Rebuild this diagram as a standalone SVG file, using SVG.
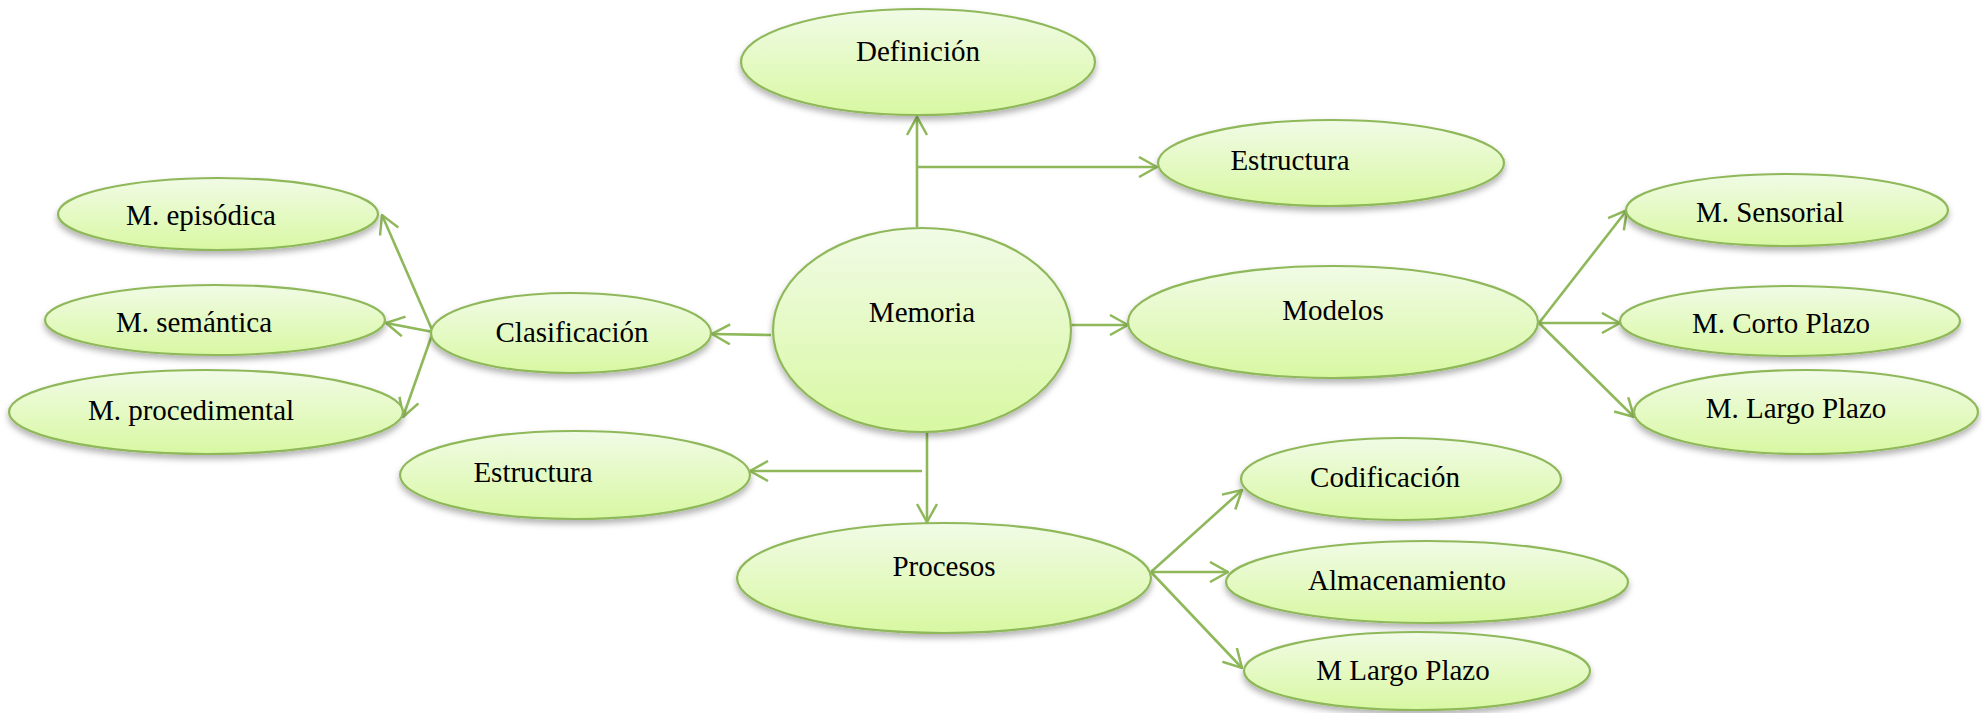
<svg xmlns="http://www.w3.org/2000/svg" width="1982" height="713" viewBox="0 0 1982 713">
<defs>
<linearGradient id="g" x1="0" y1="0" x2="0" y2="1">
<stop offset="0" stop-color="#f1fbe6"/>
<stop offset="1" stop-color="#d8f8a2"/>
</linearGradient>
<filter id="sh" x="-10%" y="-10%" width="120%" height="140%">
<feDropShadow dx="0" dy="4" stdDeviation="3" flood-color="#000" flood-opacity="0.3"/>
</filter>
<marker id="ar" viewBox="0 0 20 22" refX="19" refY="11" markerWidth="20" markerHeight="22" markerUnits="userSpaceOnUse" orient="auto">
<path d="M1,1 L19,11 L1,21" fill="none" stroke="#8fb85a" stroke-width="2.5"/>
</marker>
</defs>
<style>
.n ellipse{fill:url(#g);stroke:#8fb85a;stroke-width:2.2;filter:url(#sh)}
.n text{font-family:"Liberation Serif","Times New Roman",serif;font-size:29px;fill:#000;text-anchor:middle}
#connectors path{fill:none;stroke:#8fb85a;stroke-width:2.6;marker-end:url(#ar)}
#connectors path.plain{marker-end:none}
</style>
<rect width="1982" height="713" fill="#fff"/>
<g id="connectors">
<path d="M917,227 L917,117"/>
<path d="M917,167 L1157,167"/>
<path d="M771,335 L712,334"/>
<path d="M433,332 L382,215"/>
<path d="M433,332 L386,323"/>
<path d="M433,332 L403,417"/>
<path d="M1070,325 L1128,325"/>
<path d="M1539,323 L1627,210"/>
<path d="M1539,323 L1620,323"/>
<path d="M1539,323 L1634,417"/>
<path d="M927,428 L927,522"/>
<path d="M922,471 L750,471"/>
<path d="M1151,572 L1242,490"/>
<path d="M1151,572 L1228,572"/>
<path d="M1151,572 L1242,668"/>
</g>
<g id="definicion" class="n"><ellipse cx="918" cy="62" rx="177" ry="53"/><text x="918" y="61">Definición</text></g>
<g id="estructura1" class="n"><ellipse cx="1331" cy="163" rx="173" ry="43"/><text x="1290" y="170">Estructura</text></g>
<g id="memoria" class="n"><ellipse cx="922" cy="330" rx="149" ry="102"/><text x="922" y="322">Memoria</text></g>
<g id="modelos" class="n"><ellipse cx="1333" cy="322" rx="205" ry="56"/><text x="1333" y="320">Modelos</text></g>
<g id="sensorial" class="n"><ellipse cx="1787" cy="210" rx="161" ry="36"/><text x="1770" y="222">M. Sensorial</text></g>
<g id="corto" class="n"><ellipse cx="1790" cy="321" rx="170" ry="35"/><text x="1781" y="333">M. Corto Plazo</text></g>
<g id="largo1" class="n"><ellipse cx="1806" cy="412" rx="172" ry="42"/><text x="1796" y="418">M. Largo Plazo</text></g>
<g id="clasificacion" class="n"><ellipse cx="571" cy="333" rx="140" ry="40"/><text x="572" y="342">Clasificación</text></g>
<g id="episodica" class="n"><ellipse cx="218" cy="214" rx="160" ry="36"/><text x="201" y="225">M. episódica</text></g>
<g id="semantica" class="n"><ellipse cx="215" cy="320" rx="170" ry="35"/><text x="194" y="332">M. semántica</text></g>
<g id="procedimental" class="n"><ellipse cx="206" cy="412" rx="197" ry="42"/><text x="191" y="420">M. procedimental</text></g>
<g id="estructura2" class="n"><ellipse cx="575" cy="475" rx="175" ry="44"/><text x="533" y="482">Estructura</text></g>
<g id="procesos" class="n"><ellipse cx="944" cy="578" rx="207" ry="55"/><text x="944" y="576">Procesos</text></g>
<g id="codificacion" class="n"><ellipse cx="1401" cy="479" rx="160" ry="41"/><text x="1385" y="487">Codificación</text></g>
<g id="almacenamiento" class="n"><ellipse cx="1427" cy="582" rx="201" ry="41"/><text x="1407" y="590">Almacenamiento</text></g>
<g id="largo2" class="n"><ellipse cx="1417" cy="671" rx="173" ry="39"/><text x="1403" y="680">M Largo Plazo</text></g>
</svg>
